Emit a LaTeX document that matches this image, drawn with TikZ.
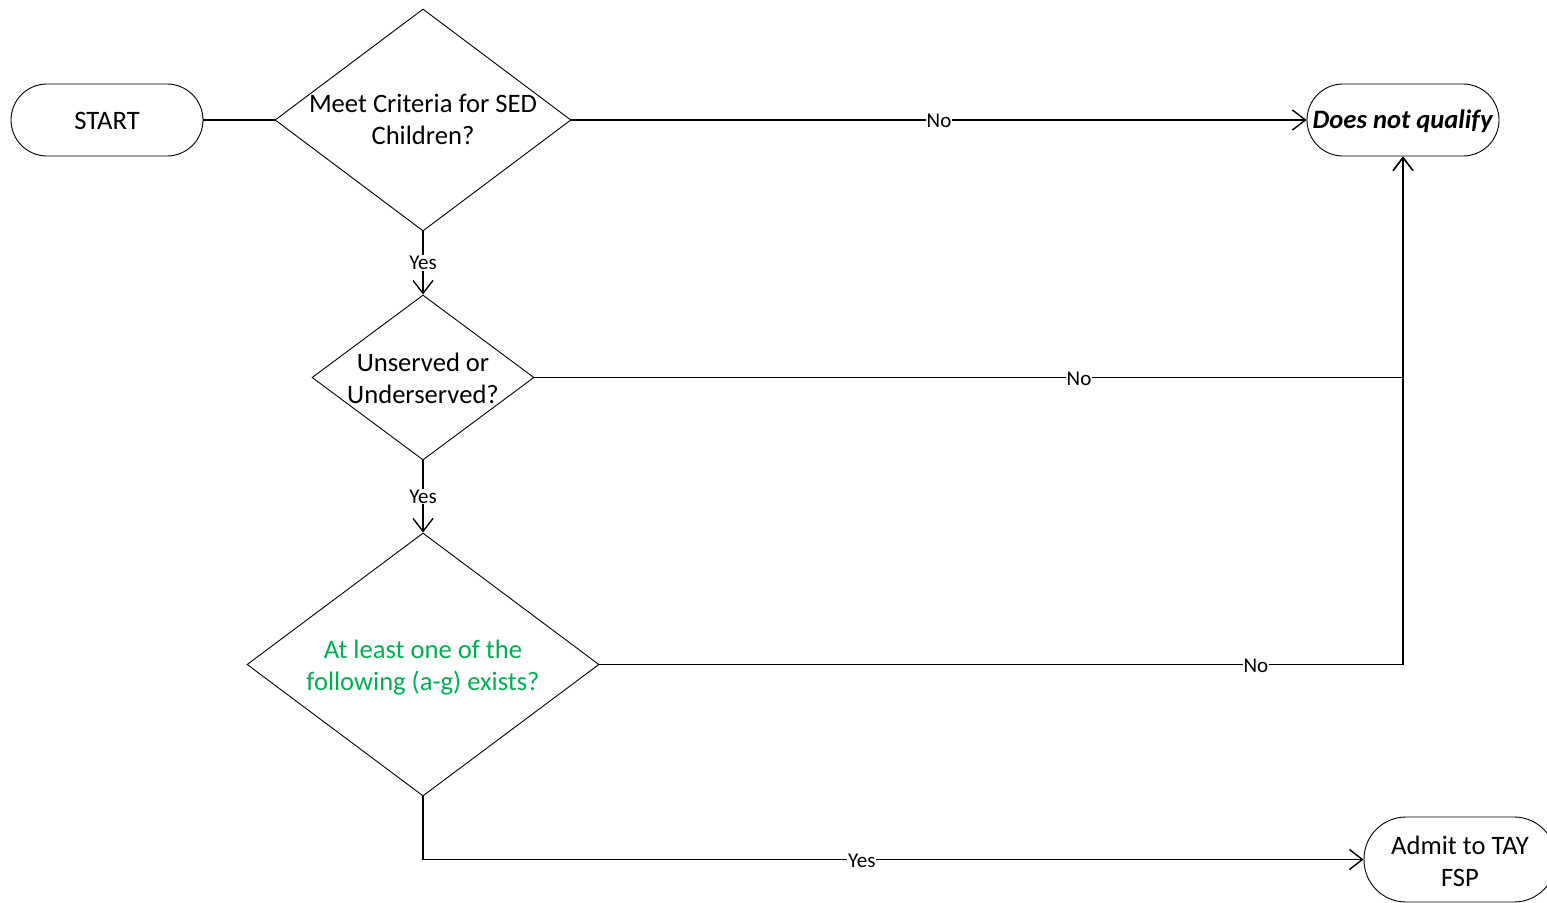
\documentclass[tikz,border=0pt]{standalone}
\usepackage{fontspec}
\setmainfont{Carlito}
\usetikzlibrary{shapes.geometric,arrows.meta}
\definecolor{offgreen}{HTML}{00B050}
\begin{document}
\begin{tikzpicture}[x=1pt,y=-1pt,
  mainfont/.style={font=\fontsize{26.6}{32}\selectfont},
  term/.style={draw,line width=0.9pt,inner sep=0pt,minimum width=192pt},
  termtext/.style={mainfont,align=center,inner sep=0pt},
  dec/.style={draw,diamond,line width=0.9pt,inner sep=0pt},
  dectext/.style={mainfont,align=center,inner sep=0pt},
  conn/.style={line width=1.4pt},
  arr/.style={conn,-{Straight Barb[length=13pt,width=20pt,line width=1.4pt]}},
  lbl/.style={fill=white,inner sep=1pt,font=\fontsize{21}{25}\selectfont}]
\useasboundingbox (0,0) rectangle (1547,902);

\node[term,rounded corners=36pt,minimum height=72pt] (start) at (107,120) {};
\node[termtext] (startt) at (107,121) {START};
\node[term,rounded corners=36pt,minimum height=72pt] (dnq) at (1403,120) {};
\node[termtext] (dnqt) at (1403,121) {\textbf{\textit{Does not qualify}}};
\node[term,rounded corners=42pt,minimum height=85pt] (admit) at (1460,859.5) {};
\node[termtext] (admitt) at (1460,861.5) {Admit to TAY\\FSP};

\node[dec,minimum width=296pt,minimum height=222pt] (d1) at (423,120) {};
\node[dectext] (d1t) at (423,119.5) {Meet Criteria for SED\\Children?};
\node[dec,minimum width=222pt,minimum height=165pt] (d2) at (423,377.5) {};
\node[dectext] (d2t) at (423,378) {Unserved or\\Underserved?};
\node[dec,minimum width=352pt,minimum height=263pt] (d3) at (423,664.5) {};
\node[dectext,text=offgreen] (d3t) at (423,667.5) {At least one of the\\following (a-g) exists?};

\coordinate (c2) at (dnq.south |- d2.east);
\coordinate (c3) at (dnq.south |- d3.east);
\coordinate (c4) at (d3.south |- admit.west);

\draw[conn] (start.east) -- (d1.west);
\draw[arr] (d1.east) -- node[lbl,yshift=-1pt] {No} (dnq.west);
\draw[arr] (d1.south) -- node[lbl] {Yes} (d2.north);
\draw[arr] (d2.east) -- node[lbl,pos=0.627,yshift=-1pt] {No} (c2) -- (dnq.south);
\draw[arr] (d2.south) -- node[lbl] {Yes} (d3.north);
\draw[arr] (d3.east) -- node[lbl,pos=0.817,yshift=-1pt] {No} (c3) -- (dnq.south);
\draw[arr] (d3.south) -- (c4) -- node[lbl,pos=0.4665,yshift=-1pt] {Yes} (admit.west);
\end{tikzpicture}
\end{document}
